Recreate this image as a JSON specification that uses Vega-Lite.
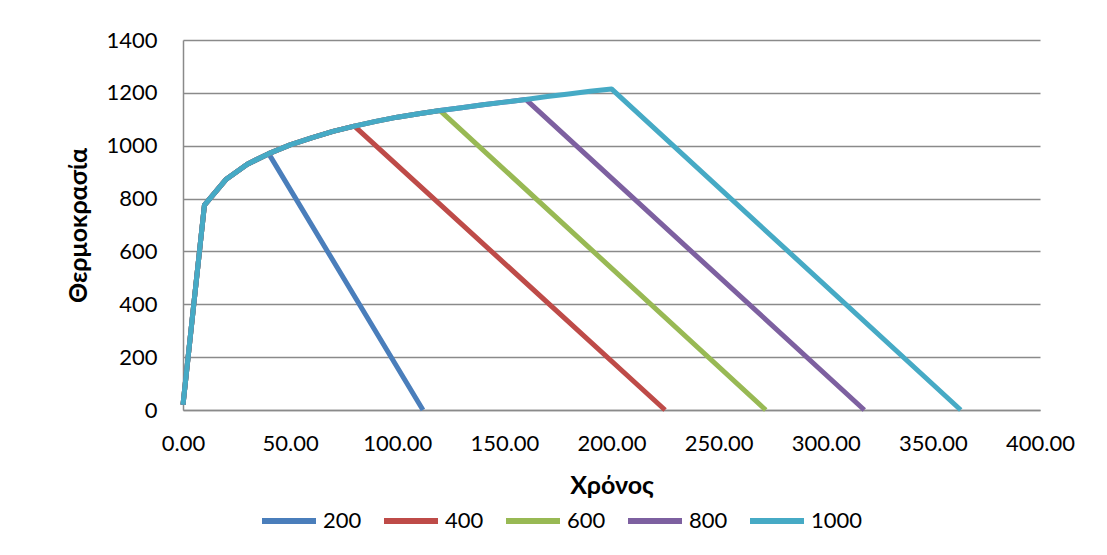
{
  "$schema": "https://vega.github.io/schema/vega-lite/v6.json",
  "autosize": {"type": "none"},
  "width": 857,
  "height": 370,
  "padding": {"top": 40, "left": 183, "right": 67, "bottom": 145},
  "background": "#ffffff",
  "data": {
    "values": [
      {"s": 200, "t": 0, "T": 20}, {"s": 200, "t": 10, "T": 775}, {"s": 200, "t": 20, "T": 872}, {"s": 200, "t": 30, "T": 930}, {"s": 200, "t": 40, "T": 970},
      {"s": 200, "t": 112, "T": 0},

      {"s": 400, "t": 0, "T": 20}, {"s": 400, "t": 10, "T": 775}, {"s": 400, "t": 20, "T": 872}, {"s": 400, "t": 30, "T": 930}, {"s": 400, "t": 40, "T": 970},
      {"s": 400, "t": 50, "T": 1003}, {"s": 400, "t": 60, "T": 1030}, {"s": 400, "t": 70, "T": 1054}, {"s": 400, "t": 80, "T": 1074},
      {"s": 400, "t": 225, "T": 0},

      {"s": 600, "t": 0, "T": 20}, {"s": 600, "t": 10, "T": 775}, {"s": 600, "t": 20, "T": 872}, {"s": 600, "t": 30, "T": 930}, {"s": 600, "t": 40, "T": 970},
      {"s": 600, "t": 50, "T": 1003}, {"s": 600, "t": 60, "T": 1030}, {"s": 600, "t": 70, "T": 1054}, {"s": 600, "t": 80, "T": 1074},
      {"s": 600, "t": 90, "T": 1092}, {"s": 600, "t": 100, "T": 1108}, {"s": 600, "t": 110, "T": 1121}, {"s": 600, "t": 120, "T": 1133},
      {"s": 600, "t": 272, "T": 0},

      {"s": 800, "t": 0, "T": 20}, {"s": 800, "t": 10, "T": 775}, {"s": 800, "t": 20, "T": 872}, {"s": 800, "t": 30, "T": 930}, {"s": 800, "t": 40, "T": 970},
      {"s": 800, "t": 50, "T": 1003}, {"s": 800, "t": 60, "T": 1030}, {"s": 800, "t": 70, "T": 1054}, {"s": 800, "t": 80, "T": 1074},
      {"s": 800, "t": 90, "T": 1092}, {"s": 800, "t": 100, "T": 1108}, {"s": 800, "t": 110, "T": 1121}, {"s": 800, "t": 120, "T": 1133},
      {"s": 800, "t": 130, "T": 1144}, {"s": 800, "t": 140, "T": 1155}, {"s": 800, "t": 150, "T": 1165}, {"s": 800, "t": 160, "T": 1175},
      {"s": 800, "t": 318, "T": 0},

      {"s": 1000, "t": 0, "T": 20}, {"s": 1000, "t": 10, "T": 775}, {"s": 1000, "t": 20, "T": 872}, {"s": 1000, "t": 30, "T": 930}, {"s": 1000, "t": 40, "T": 970},
      {"s": 1000, "t": 50, "T": 1003}, {"s": 1000, "t": 60, "T": 1030}, {"s": 1000, "t": 70, "T": 1054}, {"s": 1000, "t": 80, "T": 1074},
      {"s": 1000, "t": 90, "T": 1092}, {"s": 1000, "t": 100, "T": 1108}, {"s": 1000, "t": 110, "T": 1121}, {"s": 1000, "t": 120, "T": 1133},
      {"s": 1000, "t": 130, "T": 1144}, {"s": 1000, "t": 140, "T": 1155}, {"s": 1000, "t": 150, "T": 1165}, {"s": 1000, "t": 160, "T": 1175},
      {"s": 1000, "t": 170, "T": 1186}, {"s": 1000, "t": 180, "T": 1196}, {"s": 1000, "t": 190, "T": 1206}, {"s": 1000, "t": 200, "T": 1215},
      {"s": 1000, "t": 363, "T": 0}
    ]
  },
  "mark": {"type": "line", "strokeWidth": 5, "strokeJoin": "round", "clip": false},
  "encoding": {
    "x": {
      "field": "t",
      "type": "quantitative",
      "title": "Χρόνος",
      "scale": {"domain": [0, 400], "nice": false, "zero": true},
      "axis": {
        "values": [0, 50, 100, 150, 200, 250, 300, 350, 400],
        "format": ".2f",
        "grid": false,
        "ticks": false,
        "tickSize": 0,
        "labelFlush": false,
        "labelOverlap": false,
        "labelPadding": 23,
        "titlePadding": 19
      }
    },
    "y": {
      "field": "T",
      "type": "quantitative",
      "title": "Θερμοκρασία",
      "scale": {"domain": [0, 1400], "nice": false},
      "axis": {
        "values": [0, 200, 400, 600, 800, 1000, 1200, 1400],
        "format": "d",
        "grid": true,
        "ticks": false,
        "tickSize": 0,
        "labelFlush": false,
        "labelOverlap": false,
        "labelPadding": 26,
        "titlePadding": 14
      }
    },
    "color": {
      "field": "s",
      "type": "nominal",
      "scale": {
        "domain": [200, 400, 600, 800, 1000],
        "range": ["#4a7ebb", "#be4b48", "#98b954", "#7d60a0", "#46aac5"]
      },
      "legend": {
        "title": null,
        "orient": "none",
        "direction": "horizontal",
        "columns": 5,
        "legendX": 76,
        "legendY": 451,
        "symbolType": "stroke",
        "symbolSize": 2916,
        "symbolStrokeWidth": 6,
        "labelOffset": 4,
        "columnPadding": 10,
        "padding": 0
      }
    }
  },
  "config": {
    "font": "Lato, 'Open Sans', sans-serif",
    "view": {"stroke": null},
    "axis": {
      "labelFont": "Lato, 'Open Sans', sans-serif",
      "labelFontSize": 22,
      "labelColor": "#000000",
      "titleFont": "Lato, 'Open Sans', sans-serif",
      "titleFontSize": 25,
      "titleFontWeight": "bold",
      "titleColor": "#000000",
      "domainColor": "#8a8a8a",
      "domainWidth": 1.5,
      "gridColor": "#8a8a8a",
      "gridWidth": 1.5,
      "gridOpacity": 1
    },
    "legend": {
      "labelFont": "Lato, 'Open Sans', sans-serif",
      "labelFontSize": 22,
      "labelColor": "#000000"
    }
  }
}
